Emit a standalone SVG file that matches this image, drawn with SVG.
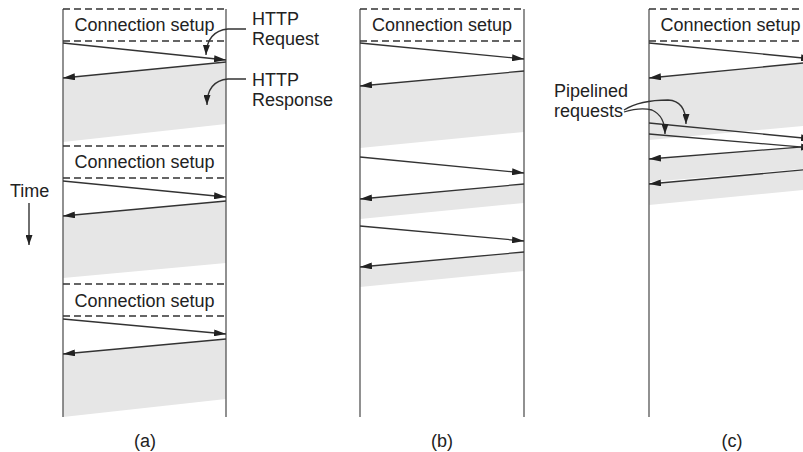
<svg xmlns="http://www.w3.org/2000/svg" width="803" height="452" viewBox="0 0 803 452">
<defs>
<marker id="ah" markerUnits="userSpaceOnUse" markerWidth="12" markerHeight="7" refX="12" refY="3.5" orient="auto">
<path d="M0,0 L12,3.5 L0,7 z" fill="#222"/>
</marker>
<marker id="ahc" markerUnits="userSpaceOnUse" markerWidth="10" markerHeight="7" refX="10" refY="3.5" orient="auto">
<path d="M0,0 L10,3.5 L0,7 z" fill="#222"/>
</marker>
</defs>
<style>
text{font-family:"Liberation Sans",Arial,sans-serif;font-size:18px;fill:#222}
.mid{text-anchor:middle}
.life{stroke:#555;stroke-width:1.3;fill:none}
.dash{stroke:#333;stroke-width:1.3;stroke-dasharray:7 4;fill:none}
.shade{fill:#e6e6e6;stroke:none}
.msg{stroke:#333;stroke-width:1.3;fill:none;marker-end:url(#ah)}
.call{stroke:#333;stroke-width:1.3;fill:none;marker-end:url(#ahc)}
</style>
<rect width="803" height="452" fill="#fff"/>

<g id="panel-a">
<polygon class="shade" points="226,62 63,78 63,142 226,124"/>
<polygon class="shade" points="226,201 63,216 63,278 226,263"/>
<polygon class="shade" points="226,339 63,354 63,417 226,399"/>
<line class="life" x1="63" y1="9" x2="63" y2="417"/>
<line class="life" x1="226" y1="9" x2="226" y2="417"/>
<line class="dash" x1="63" y1="9" x2="226" y2="9"/>
<line class="dash" x1="63" y1="41" x2="226" y2="41"/>
<line class="dash" x1="63" y1="146" x2="226" y2="146"/>
<line class="dash" x1="63" y1="178" x2="226" y2="178"/>
<line class="dash" x1="63" y1="284" x2="226" y2="284"/>
<line class="dash" x1="63" y1="316" x2="226" y2="316"/>
<text class="mid" x="144.5" y="31">Connection setup</text>
<text class="mid" x="144.5" y="168">Connection setup</text>
<text class="mid" x="144.5" y="307">Connection setup</text>
<text class="mid" x="145" y="447">(a)</text>
</g>

<g id="panel-b">
<polygon class="shade" points="524,71 360,86 360,148 524,132"/>
<polygon class="shade" points="524,184 360,199 360,219 524,203"/>
<polygon class="shade" points="524,252 360,267 360,287 524,271"/>
<line class="life" x1="360" y1="9" x2="360" y2="417"/>
<line class="life" x1="524" y1="9" x2="524" y2="417"/>
<line class="dash" x1="360" y1="9" x2="524" y2="9"/>
<line class="dash" x1="360" y1="41" x2="524" y2="41"/>
<text class="mid" x="442" y="31">Connection setup</text>
<text class="mid" x="442" y="447">(b)</text>
</g>

<g id="panel-c">
<polygon class="shade" points="813,62 649,78 649,140 813,125"/>
<polygon class="shade" points="813,146 649,159 649,182 813,168"/>
<polygon class="shade" points="813,169 649,184 649,205 813,189"/>
<line class="life" x1="649" y1="9" x2="649" y2="417"/>
<line class="life" x1="813" y1="9" x2="813" y2="417"/>
<line class="dash" x1="649" y1="9" x2="813" y2="9"/>
<line class="dash" x1="649" y1="41" x2="813" y2="41"/>
<text class="mid" x="730.5" y="31">Connection setup</text>
<text class="mid" x="732" y="447">(c)</text>
</g>

<g id="time">
<text x="10" y="197">Time</text>
<line x1="29" y1="203" x2="29" y2="245" stroke="#222" stroke-width="1.3" marker-end="url(#ahc)"/>
</g>

<g id="labels">
<text x="252" y="25">HTTP</text>
<text x="252" y="45">Request</text>
<text x="252" y="86">HTTP</text>
<text x="252" y="106">Response</text>
<text x="554" y="97">Pipelined</text>
<text x="554" y="117">requests</text>
</g>

<g id="connectors">
<line class="msg" x1="63" y1="43" x2="226" y2="60"/>
<line class="msg" x1="226" y1="62" x2="63" y2="78"/>
<line class="msg" x1="63" y1="181" x2="226" y2="197"/>
<line class="msg" x1="226" y1="201" x2="63" y2="216"/>
<line class="msg" x1="63" y1="319" x2="226" y2="334"/>
<line class="msg" x1="226" y1="339" x2="63" y2="354"/>

<line class="msg" x1="360" y1="43" x2="524" y2="59"/>
<line class="msg" x1="524" y1="71" x2="360" y2="86"/>
<line class="msg" x1="360" y1="157" x2="524" y2="173"/>
<line class="msg" x1="524" y1="184" x2="360" y2="199"/>
<line class="msg" x1="360" y1="226" x2="524" y2="241"/>
<line class="msg" x1="524" y1="252" x2="360" y2="267"/>

<line class="msg" x1="649" y1="43" x2="813" y2="59"/>
<line class="msg" x1="813" y1="62" x2="649" y2="78"/>
<line class="msg" x1="649" y1="123" x2="813" y2="139"/>
<line class="msg" x1="649" y1="134" x2="813" y2="148"/>
<line class="msg" x1="813" y1="146" x2="649" y2="159"/>
<line class="msg" x1="813" y1="169" x2="649" y2="184"/>

<path class="call" d="M246,29 L228,29 Q207,31 206,55"/>
<path class="call" d="M246,79 L228,79 Q207,81 207,105"/>
<path class="call" d="M624,110 Q640,100 668,100 Q686,101 686,124"/>
<path class="call" d="M624,112 Q640,107 652,110 Q665,116 665,134"/>
</g>
</svg>
